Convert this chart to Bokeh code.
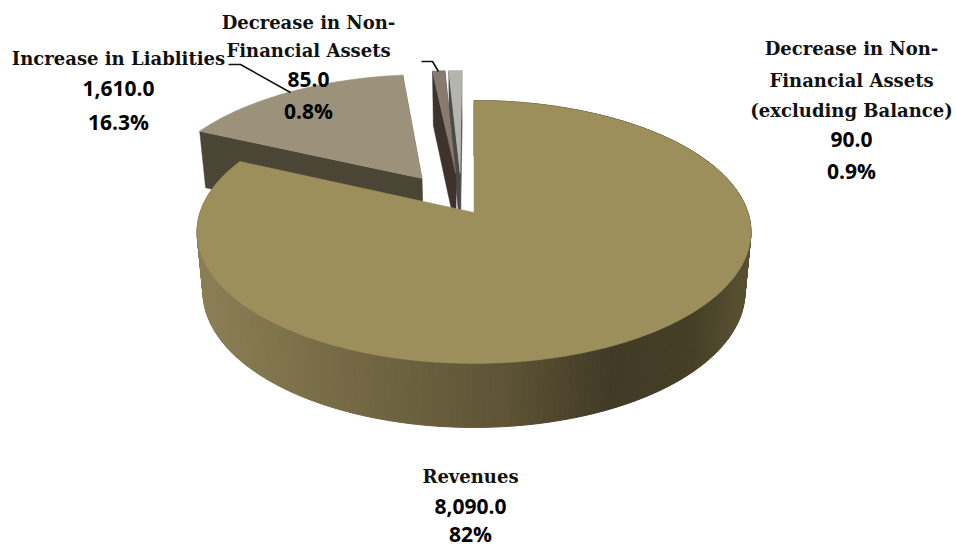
import math
from bokeh.plotting import figure
from bokeh.core.properties import value
from bokeh.embed import file_html
from bokeh.resources import INLINE

# ---- data, clockwise from the top of the pie
slice_values = [8090.0, 1610.0, 85.0, 90.0]
slice_names = [["Revenues"], ["Increase in Liablities"],
               ["Decrease in Non-", "Financial Assets"],
               ["Decrease in Non-", "Financial Assets", "(excluding Balance)"]]
value_texts = ["8,090.0", "1,610.0", "85.0", "90.0"]
percent_texts = ["82%", "16.3%", "0.8%", "0.9%"]

# ---- style
top_colors = ["#9C8F5B", "#9C927C", "#877A6E", "#B4B6AE"]
wall_colors = [None, "#4B4535", "#3D332C", "#484B49"]
explode = [(0.0, 0.0), (-0.198, -0.276), (-0.07, -0.32), (-0.053, -0.32)]
draw_order = [3, 2, 1, 0]
gradient = [(0.0, (0x8A, 0x7F, 0x55)), (0.3, (0x72, 0x67, 0x42)), (0.55, (0x5E, 0x54, 0x36)),
            (0.75, (0x41, 0x3A, 0x25)), (0.9, (0x45, 0x3F, 0x27)), (1.0, (0x5A, 0x52, 0x32))]

CX, PC = 473.5, -0.148
LEVELS = {0: (212.0, 128.6, 273.9), 1: (271.2, 132.7, 268.0)}


def project(u, v, level):
    a, b, d = LEVELS[level]
    w = 1 + PC * v
    return CX + d * u / w, a + b * v / w


def shade(fr):
    for (f0, c0), (f1, c1) in zip(gradient, gradient[1:]):
        if fr <= f1:
            t = (fr - f0) / (f1 - f0)
            return "#%02x%02x%02x" % tuple(round(x + (y - x) * t) for x, y in zip(c0, c1))
    return "#5a5232"


def rim(deg, e):
    r = math.radians(deg)
    return math.sin(r) + e[0], -math.cos(r) + e[1]


p = figure(width=956, height=548, x_range=(0, 956), y_range=(548, 0), output_backend="svg",
           toolbar_location=None, min_border=0, outline_line_color=None,
           background_fill_color="white", border_fill_color="white")
p.axis.visible = False
p.grid.visible = False

total = sum(slice_values)
starts, acc = [], 0.0
for v in slice_values:
    starts.append(acc)
    acc += v / total * 360.0

for i in draw_order:
    a0, a1 = starts[i], starts[i] + slice_values[i] / total * 360.0
    e = explode[i]
    n = max(2, int(a1 - a0))
    degs = [a0 + (a1 - a0) * k / n for k in range(n + 1)]
    rims = [rim(d, e) for d in degs]
    if i == 0:
        xs, ys, cols = [], [], []
        for (u0, v0), (u1, v1) in zip(rims, rims[1:]):
            t0, t1 = project(u0, v0, 0), project(u1, v1, 0)
            b0, b1 = project(u0, v0, 1), project(u1, v1, 1)
            xs.append([t0[0], t1[0], b1[0], b0[0]])
            ys.append([t0[1], t1[1], b1[1], b0[1]])
            cols.append(shade(((t0[0] + t1[0]) / 2 - 196.5) / 554.0))
        p.patches(xs, ys, fill_color=cols, line_color=cols, line_width=1.0)
    else:
        for edge in (rims[-1], rims[0]):
            corners = [project(e[0], e[1], 0), project(edge[0], edge[1], 0),
                       project(edge[0], edge[1], 1), project(e[0], e[1], 1)]
            p.patch([c[0] for c in corners], [c[1] for c in corners],
                    fill_color=wall_colors[i], line_color=wall_colors[i], line_width=0.5)
    top = [project(e[0], e[1], 0)] + [project(u, v, 0) for u, v in rims]
    p.patch([c[0] for c in top], [c[1] for c in top], fill_color=top_colors[i],
            line_color=top_colors[i], line_width=0.5)

# ---- leader lines
p.line([228, 240, 290], [64, 64, 92], line_color="#111111", line_width=1.6)
p.line([421, 432, 438], [61, 61, 71], line_color="#111111", line_width=1.6)

# ---- labels
anchors = [(470, [476, 506, 533]), (118, [58, 88, 121]), (308, [22, 50, 79, 110]), (851, [48, 80, 110, 139, 170])]
for (cx, ys), names, vt, pt in zip(anchors, slice_names, value_texts, percent_texts):
    k = len(names)
    p.text([cx] * k, ys[:k], text=names, text_font=value("DejaVu Serif"), text_font_style="bold",
           text_font_size="18px", text_color="#111111", text_align="center", text_baseline="middle")
    p.text([cx, cx], ys[k:], text=[vt, pt], text_font=value("Open Sans"), text_font_style="bold",
           text_font_size="21px", text_color="#000000", text_align="center", text_baseline="middle")

open("out.html", "w").write(file_html(p, INLINE))
